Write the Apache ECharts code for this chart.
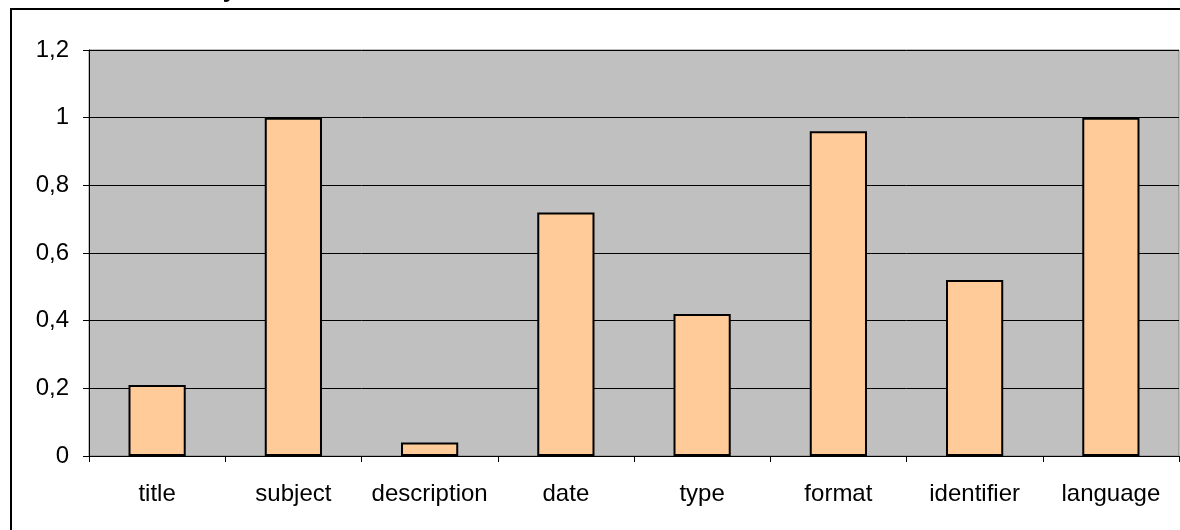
<!DOCTYPE html>
<html>
<head>
<meta charset="utf-8">
<script src="https://cdn.jsdelivr.net/npm/echarts@6/dist/echarts.min.js"></script>
<style>
  html, body { margin: 0; padding: 0; background: #ffffff; }
  #chart { width: 1180px; height: 530px; }
</style>
</head>
<body>
<div id="chart"></div>
<script>
// Dublin Core element usage share
const categories = ['title', 'subject', 'description', 'date', 'type', 'format', 'identifier', 'language'];
const shares = [0.21, 1.0, 0.04, 0.72, 0.42, 0.96, 0.52, 1.0];
const yTicks = { min: 0, max: 1.2, interval: 0.2 };
const chartTitle = 'Availability';

const FONT = '"Liberation Sans", Arial, sans-serif';

const chart = echarts.init(document.getElementById('chart'), null, { renderer: 'canvas' });

chart.setOption({
  animation: false,
  backgroundColor: '#ffffff',
  graphic: [
    {
      // outer chart frame
      type: 'rect',
      shape: { x: 11, y: 9, width: 1200, height: 560 },
      style: { fill: 'none', stroke: '#000000', lineWidth: 2 },
      z: 0
    },
    {
      type: 'text',
      x: 236,
      y: -10,
      style: {
        text: chartTitle,
        font: 'bold 24px ' + FONT,
        fill: '#000000',
        align: 'right',
        verticalAlign: 'middle'
      },
      z: 10
    }
  ],
  grid: {
    left: 89,
    right: 1,
    top: 50,
    bottom: 74,
    show: true,
    backgroundColor: '#c0c0c0',
    borderColor: '#808080',
    borderWidth: 1
  },
  xAxis: {
    type: 'category',
    data: categories,
    axisLine: { show: true, lineStyle: { color: '#000000', width: 1 } },
    axisTick: { show: true, alignWithLabel: false, length: 6, lineStyle: { color: '#000000' } },
    axisLabel: {
      color: '#000000',
      fontFamily: FONT,
      fontSize: 24,
      margin: 26,
      interval: 0
    }
  },
  yAxis: {
    type: 'value',
    min: yTicks.min,
    max: yTicks.max,
    interval: yTicks.interval,
    axisLine: { show: true, lineStyle: { color: '#000000', width: 1 } },
    axisTick: { show: true, length: 6, lineStyle: { color: '#000000' } },
    splitLine: { show: true, lineStyle: { color: '#000000', width: 1 } },
    axisLabel: {
      color: '#000000',
      fontFamily: FONT,
      fontSize: 24,
      margin: 20,
      formatter: v => String(+v.toFixed(1)).replace('.', ',')
    }
  },
  series: [
    {
      type: 'bar',
      data: shares,
      barWidth: '42%',
      itemStyle: {
        color: '#ffcc99',
        borderColor: '#000000',
        borderWidth: 2
      }
    }
  ]
});
</script>
</body>
</html>
